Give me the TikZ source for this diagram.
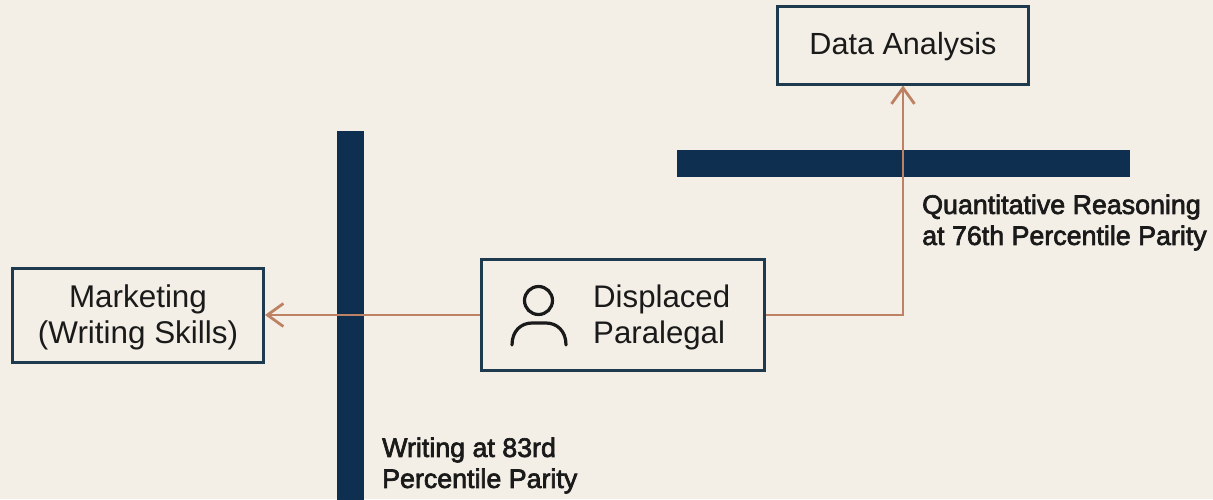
\documentclass[tikz,border=0pt]{standalone}
\usepackage{fontspec}
\setmainfont{Liberation Sans}
\newfontfamily\medfont[FakeBold=2.5]{Liberation Sans}
\usetikzlibrary{arrows.meta}
\definecolor{bgc}{HTML}{F3EFE6}
\definecolor{navy}{HTML}{0F2F50}
\definecolor{edgec}{HTML}{1E3A4E}
\definecolor{arrowc}{HTML}{BC8263}
\definecolor{inkc}{HTML}{1A1A1A}
\tikzset{
  x=1pt,y=-1pt,
  box/.style={draw=edgec,line width=3pt,fill=bgc,minimum width=#1,inner sep=0pt,align=center,text=inkc,font=\fontsize{31}{36}\selectfont},
  barfill/.style={fill=navy,draw=none,inner sep=0pt},
  conn/.style={draw=arrowc,line width=2.8pt,-{Straight Barb[length=16pt,width=23pt,line width=2.8pt]}},
  note/.style={anchor=west,align=left,inner sep=0pt,text=inkc,font=\medfont\fontsize{26.8}{31}\selectfont},
  icon/.style={draw=inkc,line width=3.2pt,line cap=round}
}
\begin{document}
\begin{tikzpicture}
\fill[bgc] (0,0) rectangle (1213,499);
\useasboundingbox (0,0) rectangle (1213,499);
\node[barfill,minimum width=27pt,minimum height=369pt] (vbar) at (350,315) {};
\node[barfill,minimum width=453pt,minimum height=27pt] (hbar) at (903.5,163) {};
\node[box=251pt,minimum height=78pt] (data) at (903,45) {};
\node[inner sep=0pt,text=inkc,font=\fontsize{30.6}{36}\selectfont] (datatext) at (903,47) {Data Analysis};
\node[box=251pt,minimum height=94pt] (mkt) at (138,315) {};
\node[align=center,inner sep=0pt,text=inkc,font=\fontsize{31.4}{36}\selectfont] (mkttext) at (138,317.5) {Marketing\\(Writing Skills)};
\node[box=283pt,minimum height=111pt] (para) at (623,315) {};
\node[anchor=west,align=left,inner sep=0pt,text=inkc,font=\fontsize{31.2}{36}\selectfont] (paratext) at (593,317) {Displaced\\Paralegal};
\draw[icon] (538.5,300.5) circle (14);
\draw[icon] (512,345) .. controls (512,331) and (521,323) .. (532,323) -- (546,323) .. controls (557,323) and (566,331) .. (566,345);
\draw[conn] (para.west) -- (mkt.east);
\draw[conn] (para.east) -| (data.south);
\node[note] (qnote) at (922,222.5) {Quantitative Reasoning\\at 76th Percentile Parity};
\node[note] (wnote) at (382,465.5) {Writing at 83rd\\Percentile Parity};
\end{tikzpicture}
\end{document}
